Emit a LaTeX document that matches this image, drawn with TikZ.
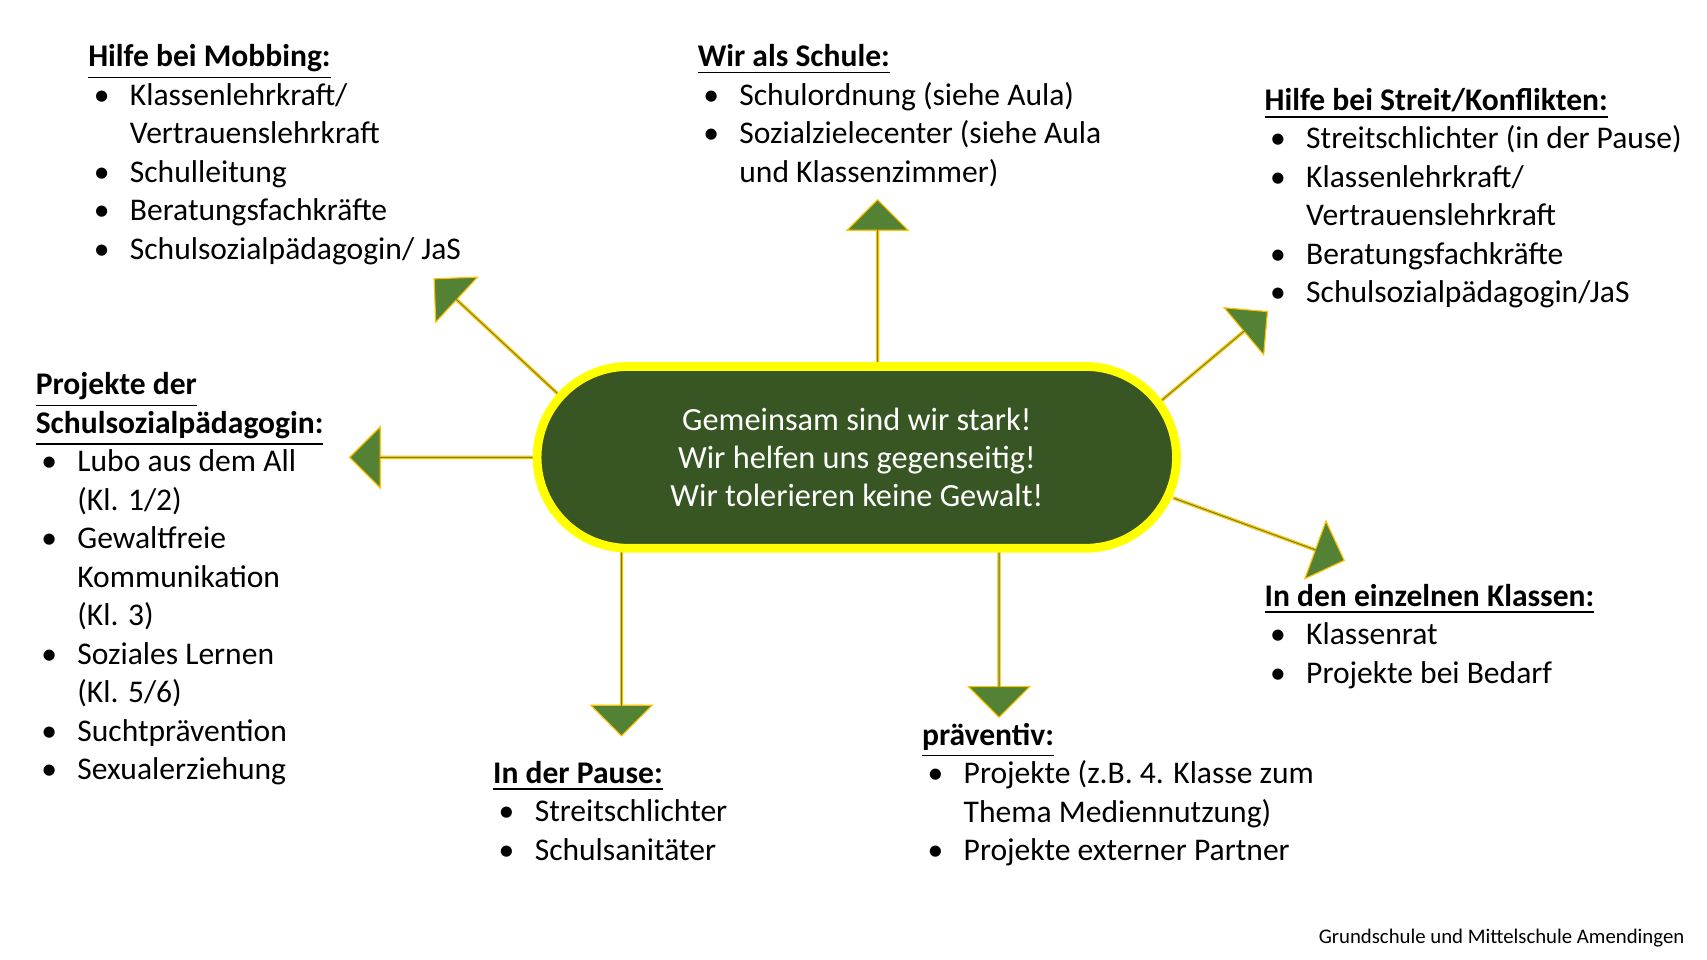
\documentclass[tikz,border=0pt]{standalone}
\usepackage{fontspec}
\setmainfont{Carlito}
\usepackage{xcolor}
\usetikzlibrary{shapes.arrows, calc}
\definecolor{leafgreen}{HTML}{548235}
\definecolor{darkgreen}{HTML}{375623}
\definecolor{goldline}{HTML}{FFC000}
\definecolor{brightyellow}{HTML}{FFFF00}
\newcommand{\bitem}[1]{\hspace*{0.05cm}\makebox[0.33cm][l]{\textbullet}#1}
\newcommand{\bcont}[1]{\hspace*{0.38cm}#1}
\newcommand{\heading}[1]{\underline{\textbf{#1}}}

\begin{document}
\begin{tikzpicture}[x=0.01cm, y=-0.01cm,
    listbox/.style={anchor=north west, align=left, inner sep=0pt, font=\fontsize{8.2}{10}\selectfont},
    bigarrow/.style={single arrow, fill=leafgreen, draw=goldline, line width=0.3pt,
      minimum width=0.56cm, single arrow head extend=0.14cm, single arrow head indent=0pt,
      inner sep=0pt, shape border uses incircle=false}]
      \useasboundingbox (0,0) rectangle (1560,877);

      % arrow end points
      \coordinate (upS) at (802,336);  \coordinate (upE) at (802,183);
      \coordinate (ulS) at (512,362);  \coordinate (ulE) at (397,255);
      \coordinate (lfS) at (490,418);  \coordinate (lfE) at (320,418);
      \coordinate (urS) at (1052,374); \coordinate (urE) at (1158,285);
      \coordinate (rtS) at (1072,455); \coordinate (rtE) at (1228,512);
      \coordinate (dlS) at (568,500);  \coordinate (dlE) at (568,672);
      \coordinate (drS) at (913,500);  \coordinate (drE) at (913,655);

      \foreach \a/\b/\nm in {upS/upE/aUp, ulS/ulE/aUl, lfS/lfE/aLf, urS/urE/aUr,
                            rtS/rtE/aRt, dlS/dlE/aDl, drS/drE/aDr}{
        \path let \p1=(\a), \p2=(\b), \n1={veclen(\x2-\x1,\y2-\y1)},
                  \n2={atan2(\y2-\y1,\x2-\x1)} in
          node[bigarrow, minimum height=\n1, rotate=\n2, anchor=tail] (\nm) at (\a) {};
      }

      % centre
      \node[draw=brightyellow, line width=0.08cm, fill=darkgreen, rounded corners=0.83cm,
            minimum width=5.84cm, minimum height=1.66cm, text=white, align=center,
            font=\fontsize{8.4}{10}\selectfont] (core) at (783,418)
        {Gemeinsam sind wir stark!\\Wir helfen uns gegenseitig!\\Wir tolerieren keine Gewalt!};

      % lists
      \node[listbox] (mobbing) at (80,40) {\heading{Hilfe bei Mobbing:}\\
        \bitem{Klassenlehrkraft/}\\ \bcont{Vertrauenslehrkraft}\\
        \bitem{Schulleitung}\\ \bitem{Beratungsfachkräfte}\\
        \bitem{Schulsozialpädagogin/ JaS}};
      \node[listbox] (schule) at (637,40) {\heading{Wir als Schule:}\\
        \bitem{Schulordnung (siehe Aula)}\\
        \bitem{Sozialzielecenter (siehe Aula}\\ \bcont{und Klassenzimmer)}};
      \node[listbox] (streit) at (1155,80) {\heading{Hilfe bei Streit/Konflikten:}\\
        \bitem{Streitschlichter (in der Pause)}\\
        \bitem{Klassenlehrkraft/}\\ \bcont{Vertrauenslehrkraft}\\
        \bitem{Beratungsfachkräfte}\\ \bitem{Schulsozialpädagogin/JaS}};
      \node[listbox] (projekte) at (32,340) {\heading{Projekte der}\\
        \heading{Schulsozialpädagogin:}\\
        \bitem{Lubo aus dem All}\\ \bcont{(Kl. 1/2)}\\
        \bitem{Gewaltfreie}\\ \bcont{Kommunikation}\\ \bcont{(Kl. 3)}\\
        \bitem{Soziales Lernen}\\ \bcont{(Kl. 5/6)}\\
        \bitem{Suchtprävention}\\ \bitem{Sexualerziehung}};
      \node[listbox] (klassen) at (1155,533) {\heading{In den einzelnen Klassen:}\\
        \bitem{Klassenrat}\\ \bitem{Projekte bei Bedarf}};
      \node[listbox] (praev) at (842,660) {\heading{präventiv:}\\
        \bitem{Projekte (z.B. 4. Klasse zum}\\ \bcont{Thema Mediennutzung)}\\
        \bitem{Projekte externer Partner}};
      \node[listbox] (pause) at (450,695) {\heading{In der Pause:}\\
        \bitem{Streitschlichter}\\ \bitem{Schulsanitäter}};

      \node[anchor=base east, inner sep=0pt, font=\fontsize{5.4}{6}\selectfont] (footer)
        at (1540,862) {Grundschule und Mittelschule Amendingen};
\end{tikzpicture}
\end{document}
